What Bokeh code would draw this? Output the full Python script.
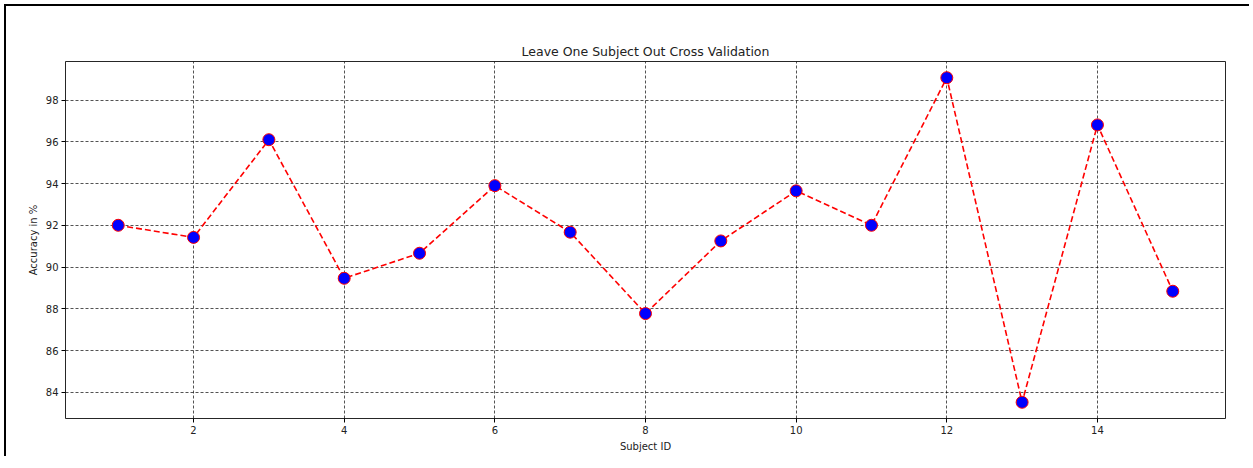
from bokeh.plotting import figure
from bokeh.models import FixedTicker, Range1d
from bokeh.embed import file_html
from bokeh.resources import INLINE

subject_ids = list(range(1, 16))
accuracy = [92.0, 91.42, 96.1, 89.46, 90.66, 93.9, 91.67, 87.77, 91.25,
            93.65, 92.0, 99.07, 83.52, 96.81, 88.84]
x_ticks = [2, 4, 6, 8, 10, 12, 14]
y_ticks = [84, 86, 88, 90, 92, 94, 96, 98]

xmin, xmax = min(subject_ids), max(subject_ids)
ymin, ymax = min(accuracy), max(accuracy)
xm = 0.05 * (xmax - xmin)
ym = 0.05 * (ymax - ymin)

FONT = "DejaVu Sans"

p = figure(width=1245, height=452, output_backend="svg", toolbar_location=None,
           x_range=Range1d(xmin - xm, xmax + xm), y_range=Range1d(ymin - ym, ymax + ym),
           title="Leave One Subject Out Cross Validation",
           min_border_left=59, min_border_right=26, min_border_top=55, min_border_bottom=40,
           styles={"margin-left": "4px", "margin-top": "4px",
                   "border-left": "2px solid black", "border-top": "2px solid black"})

p.title.align = "center"
p.title.text_font = FONT
p.title.text_font_size = "12.5px"
p.title.text_font_style = "normal"
p.title.text_color = "#222222"
p.title.standoff = 6

p.outline_line_color = "black"
p.outline_line_width = 1
p.outline_line_alpha = 0.85

for ax, ticks in ((p.xaxis, x_ticks), (p.yaxis, y_ticks)):
    ax.ticker = FixedTicker(ticks=ticks)
    ax.axis_line_color = None
    ax.minor_tick_line_color = None
    ax.major_tick_out = 4
    ax.major_tick_in = 0
    ax.major_tick_line_color = "black"
    ax.major_label_text_font = FONT
    ax.major_label_text_font_size = "10px"
    ax.major_label_text_color = "#222222"
    ax.major_label_standoff = 3
    ax.axis_label_text_font = FONT
    ax.axis_label_text_font_size = "10px"
    ax.axis_label_text_font_style = "normal"
    ax.axis_label_text_color = "#222222"
    ax.axis_label_standoff = 4

p.xaxis.axis_label = "Subject ID"
p.yaxis.axis_label = "Accuracy in %"

p.xgrid.ticker = FixedTicker(ticks=x_ticks)
p.ygrid.ticker = FixedTicker(ticks=y_ticks)
for g in (p.xgrid, p.ygrid):
    g.grid_line_color = "black"
    g.grid_line_alpha = 0.85
    g.grid_line_width = 0.8
    g.grid_line_dash = "3 2"

p.line(subject_ids, accuracy, line_color="red", line_width=1.6, line_dash="6 3")
p.scatter(subject_ids, accuracy, size=12, fill_color="blue", line_color="red", line_width=1)

open("out.html", "w").write(file_html(p, INLINE))
